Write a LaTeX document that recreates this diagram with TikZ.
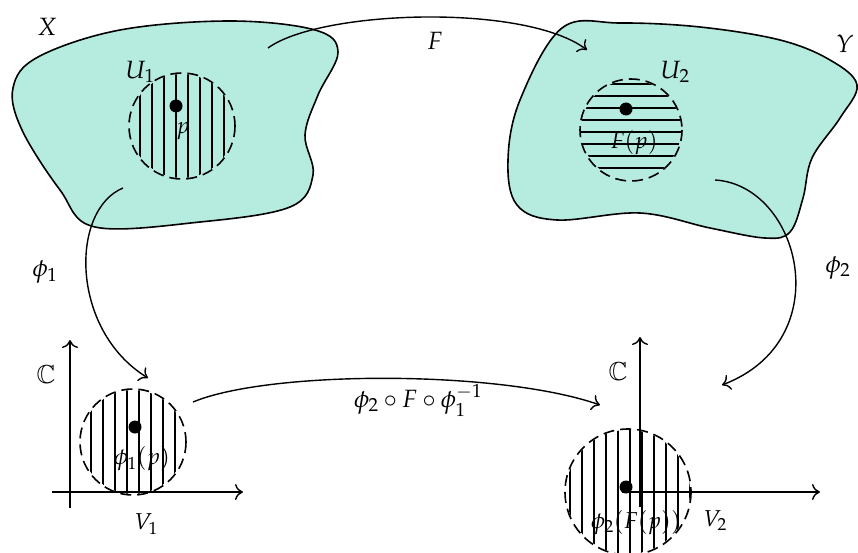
\documentclass[tikz,border=0pt]{standalone}
\usepackage{amsmath}
\usepackage{mathpazo}
\usetikzlibrary{arrows.meta}
\DeclareMathAlphabet{\mymathbb}{U}{msb}{m}{n}
\definecolor{blobfill}{RGB}{182,236,224}
\begin{document}
\begin{tikzpicture}[x=1pt,y=-1pt,
  blob/.style={draw=black,line width=1.6pt,fill=blobfill},
  hatch/.style={line width=1.8pt},
  dcirc/.style={draw=black,line width=1.6pt,dash pattern=on 11pt off 6pt},
  conn/.style={line width=1.4pt,-{To[length=8pt,width=16pt,line width=1.4pt]}},
  axis/.style={line width=1.4pt,-{To[length=8pt,width=16pt,line width=1.4pt]}},
  lbl/.style={font=\fontsize{25}{29}\selectfont,inner sep=0pt},
  slbl/.style={font=\fontsize{23}{27}\selectfont,inner sep=0pt},
  dot/.style={circle,fill=black,inner sep=0pt,minimum size=13pt}]
\useasboundingbox (0,0) rectangle (858,553);
\clip (0,0) rectangle (858,553);
% blobs
\draw[blob] plot[smooth cycle,tension=0.6] coordinates {(13,88) (38,57) (120,30) (230,21) (315,30) (338,52) (318,95) (305,135) (313,175) (290,207) (200,222) (95,227) (60,190) (22,130)};
\draw[blob] plot[smooth cycle,tension=0.6] coordinates {(562,28) (620,23) (700,27) (780,40) (830,60) (857,85) (840,118) (812,158) (803,198) (790,232) (765,238) (710,228) (640,213) (557,220) (517,205) (508,160) (520,100)};
% centers
\coordinate (cU1) at (182,126);
\coordinate (cU2) at (631,130);
\coordinate (cV1) at (133,442);
\coordinate (cV2) at (628,492);
% axes
\coordinate (a1o) at (70,508); \coordinate (a1t) at (70,340);
\coordinate (a1l) at (52,492); \coordinate (a1r) at (243,492);
\coordinate (a2o) at (640,507); \coordinate (a2t) at (640,337);
\coordinate (a2l) at (622,492); \coordinate (a2r) at (820,492);
\draw[axis] (a1o) -- (a1t);
\draw[axis] (a1l) -- (a1r);
\draw[axis] (a2o) -- (a2t);
\draw[axis] (a2l) -- (a2r);
% hatched discs
\begin{scope}
  \clip (cU1) circle (52);
  \foreach \x in {140,152,...,224} \draw[hatch] (\x,60) -- (\x,190);
\end{scope}
\draw[dcirc] (cU1) circle (53);
\begin{scope}
  \clip (cU2) circle (50);
  \foreach \y in {84,96,...,168} \draw[hatch] (570,\y) -- (690,\y);
\end{scope}
\draw[dcirc] (cU2) circle (51);
\begin{scope}
  \clip (cV1) circle (52);
  \foreach \x in {91,103,...,176} \draw[hatch] (\x,380) -- (\x,500);
\end{scope}
\draw[dcirc] (cV1) circle (53);
\begin{scope}
  \clip (cV2) circle (62);
  \foreach \x in {570,582,...,690} \draw[hatch] (\x,420) -- (\x,560);
\end{scope}
\draw[dcirc] (cV2) circle (63);
% dots
\node[dot] (p1) at (176,106) {};
\node[dot] (p2) at (626,109) {};
\node[dot] (p3) at (135,427) {};
\node[dot] (p4) at (626,487) {};
% connector ends
\coordinate (Fs) at (268,48); \coordinate (Fe) at (587,50);
\coordinate (f1s) at (123,188); \coordinate (f1e) at (148,378);
\coordinate (f2s) at (715,180); \coordinate (f2e) at (722,385);
\coordinate (cs) at (193,402); \coordinate (ce) at (600,405);
\draw[conn] (Fs) .. controls (320,10) and (525,3) .. (Fe);
\draw[conn] (f1s) .. controls (70,210) and (70,330) .. (f1e);
\draw[conn] (f2s) .. controls (800,185) and (840,340) .. (f2e);
\draw[conn] (cs) .. controls (270,370) and (500,370) .. (ce);
% labels
\node[lbl] (lX) at (47,27) {$X$};
\node[lbl] (lF) at (435,41) {$F$};
\node[lbl] (lY) at (845,44) {$Y$};
\node[lbl] (lU1) at (140,72) {$U_1$};
\node[slbl] (lp) at (183,131) {$p$};
\node[lbl] (lU2) at (675,72) {$U_2$};
\node[slbl] (lFp) at (634,143) {$F(p)$};
\node[lbl] (lphi1) at (45,272) {$\phi_1$};
\node[lbl] (lphi2) at (838,268) {$\phi_2$};
\node[lbl] (lC1) at (46,375) {$\mymathbb{C}$};
\node[lbl] (lC2) at (618,372) {$\mymathbb{C}$};
\node[slbl] (lV1) at (146,524) {$V_1$};
\node[slbl] (lV2) at (715,521) {$V_2$};
\node[slbl] (lphip) at (142,459) {$\phi_1(p)$};
\node[slbl] (lphiFp) at (636,523) {$\phi_2(F(p))$};
\node[lbl] (lcomp) at (418,400) {$\phi_2\circ F\circ\phi_1^{-1}$};
\end{tikzpicture}
\end{document}
